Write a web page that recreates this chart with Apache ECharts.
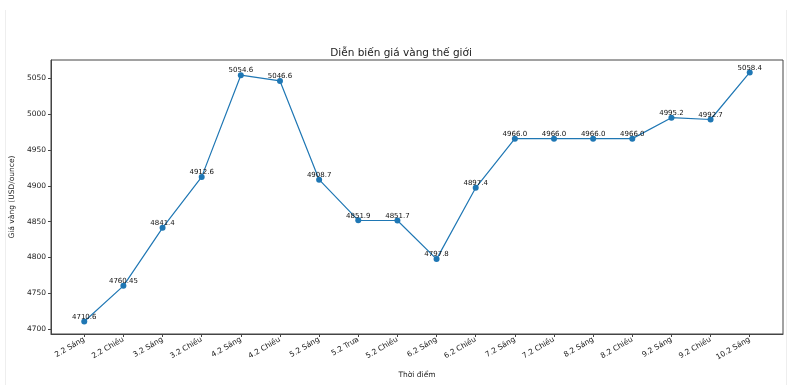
<!DOCTYPE html>
<html><head><meta charset="utf-8">
<script src="https://cdn.jsdelivr.net/npm/echarts@6/dist/echarts.min.js"></script>
<style>
html,body{margin:0;padding:0;background:#fff;}
#frame{position:absolute;left:5px;top:10px;width:782px;height:375px;border-left:1px solid #eeeeee;border-right:1px solid #eeeeee;box-sizing:border-box;}
#c{position:absolute;left:0;top:0;width:802px;height:385px;}
</style></head>
<body>
<div id="frame"></div>
<div id="c"></div>
<script>
const categories = ["2.2 Sáng","2.2 Chiều","3.2 Sáng","3.2 Chiều","4.2 Sáng","4.2 Chiều","5.2 Sáng","5.2 Trưa","5.2 Chiều","6.2 Sáng","6.2 Chiều","7.2 Sáng","7.2 Chiều","8.2 Sáng","8.2 Chiều","9.2 Sáng","9.2 Chiều","10.2 Sáng"];
const prices = [4710.6,4760.45,4841.4,4912.6,5054.6,5046.6,4908.7,4851.9,4851.7,4797.8,4897.4,4966.0,4966.0,4966.0,4966.0,4995.2,4992.7,5058.4];
const yTicks = [4700,4750,4800,4850,4900,4950,5000,5050];

const idx = categories.map((_, i) => i);
const n = categories.length;
const xMargin = (n - 1) * 0.05;
const yMin = Math.min(...prices), yMax = Math.max(...prices);
const yMargin = (yMax - yMin) * 0.05;
const FONT = 'DejaVu Sans';
const fmtVal = v => Number.isInteger(v) ? v.toFixed(1) : String(v);

const chart = echarts.init(document.getElementById('c'), null, {renderer:'canvas'});
chart.setOption({
  animation:false,
  backgroundColor:'transparent',
  title:{text:'Diễn biến giá vàng thế giới', left:'center', top:43,
    textStyle:{fontFamily:FONT,fontSize:10.5,fontWeight:'normal',color:'#222'}},
  grid:{left:50,right:19,top:60,bottom:51,show:true,borderColor:'#444',borderWidth:1,backgroundColor:'transparent'},
  xAxis:{type:'value',min:-xMargin,max:(n-1)+xMargin,
    name:'Thời điểm',nameLocation:'middle',nameGap:37,
    nameTextStyle:{fontFamily:FONT,fontSize:7.5,color:'#222'},
    axisLine:{show:true,onZero:false,lineStyle:{color:'#444',width:1}},
    axisTick:{show:true,length:3,inside:false,customValues:idx,lineStyle:{color:'#444'}},
    axisLabel:{customValues:idx,rotate:30,fontFamily:FONT,fontSize:7.5,color:'#222',margin:5,
      formatter:v=>categories[Math.round(v)]},
    splitLine:{show:false}},
  yAxis:{type:'value',min:yMin-yMargin,max:yMax+yMargin,
    name:'Giá vàng (USD/ounce)',nameLocation:'middle',nameGap:31,
    nameTextStyle:{fontFamily:FONT,fontSize:7.5,color:'#222'},
    axisLine:{show:true,onZero:false,lineStyle:{color:'#444',width:1}},
    axisTick:{show:true,length:3,customValues:yTicks,lineStyle:{color:'#444'}},
    axisLabel:{customValues:yTicks,fontFamily:FONT,fontSize:7.5,color:'#222',margin:5,
      formatter:v=>String(v)},
    splitLine:{show:false}},
  series:[{type:'line',data:idx.map(i=>[i,prices[i]]),
    symbol:'circle',symbolSize:6,showAllSymbol:true,
    itemStyle:{color:'#1f77b4'},
    lineStyle:{color:'#1f77b4',width:1.2},
    label:{show:true,position:'top',distance:-2,fontFamily:FONT,fontSize:7,color:'#111',
      formatter:p=>fmtVal(p.value[1])}}]
});
</script>
</body></html>
